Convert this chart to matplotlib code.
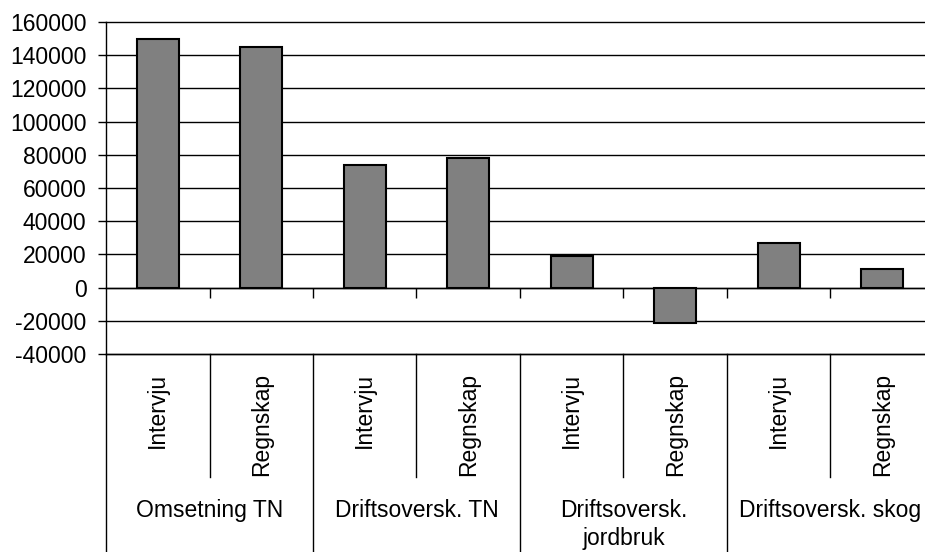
import numpy as np
import matplotlib
matplotlib.use('Agg')
from matplotlib import pyplot as plt

plt.rcParams['font.family'] = ['Liberation Sans', 'DejaVu Sans']

# data
GROUPS = ['Omsetning TN', 'Driftsoversk. TN', 'Driftsoversk.\njordbruk', 'Driftsoversk. skog']
SOURCES = ['Intervju', 'Regnskap']
VALUES = [150000, 145000, 74000, 78000, 19000, -21500, 27000, 11500]
Y_TICKS = list(range(-40000, 160001, 20000))

W, H = 925, 552
FS = 16.5

fig = plt.figure(figsize=(W / 100, H / 100), dpi=100)
fig.patch.set_facecolor('white')

# plot area (extends a bit past the right edge, like the original)
left, right, top, bottom = 106, 934, 22, 354
ax = fig.add_axes([left / W, (H - bottom) / H, (right - left) / W, (bottom - top) / H])

n = len(VALUES)
x = np.arange(n) + 0.5
ax.bar(x, VALUES, width=0.405, color='#808080', edgecolor='black', linewidth=1.5, zorder=3)

ax.set_xlim(0, n)
ax.set_ylim(Y_TICKS[0], Y_TICKS[-1])
ax.set_yticks(Y_TICKS)
ax.set_yticklabels([str(v) for v in Y_TICKS], fontsize=FS)
ax.yaxis.grid(True, color='black', linewidth=1, zorder=0)
ax.set_axisbelow(True)
for gl in ax.get_ygridlines():
    gl.set_clip_on(False)

for s in ['top', 'right']:
    ax.spines[s].set_visible(False)
ax.spines['bottom'].set_position(('data', 0))
ax.spines['bottom'].set_linewidth(1)
ax.spines['left'].set_linewidth(1)
ax.set_xticks(np.arange(1, n))
ax.tick_params(axis='x', direction='out', length=7, width=1, labelbottom=False)
ax.tick_params(axis='y', direction='out', length=6, width=1, pad=8)

# category label area below plot
lab = fig.add_axes([left / W, 0, (right - left) / W, (H - bottom) / H])
lab.set_xlim(0, n)
lab.set_ylim(H - bottom, 0)
lab.axis('off')

depth = H - bottom
lab.plot([0, n], [0, 0], color='black', lw=1, clip_on=False)
for i in range(n + 1):
    if i % 2 == 0:
        lab.plot([i, i], [0, depth], color='black', lw=1, clip_on=False)
    else:
        lab.plot([i, i], [0, 123], color='black', lw=1, clip_on=False)

for i, xi in enumerate(x):
    lab.text(xi, 19, SOURCES[i % 2], rotation=90, ha='center', va='top', fontsize=FS)

for g, name in enumerate(GROUPS):
    lab.text(2 * g + 1, 145, name, ha='center', va='top',
             fontsize=FS, linespacing=1.3)

fig.savefig('out.png', dpi=100)
